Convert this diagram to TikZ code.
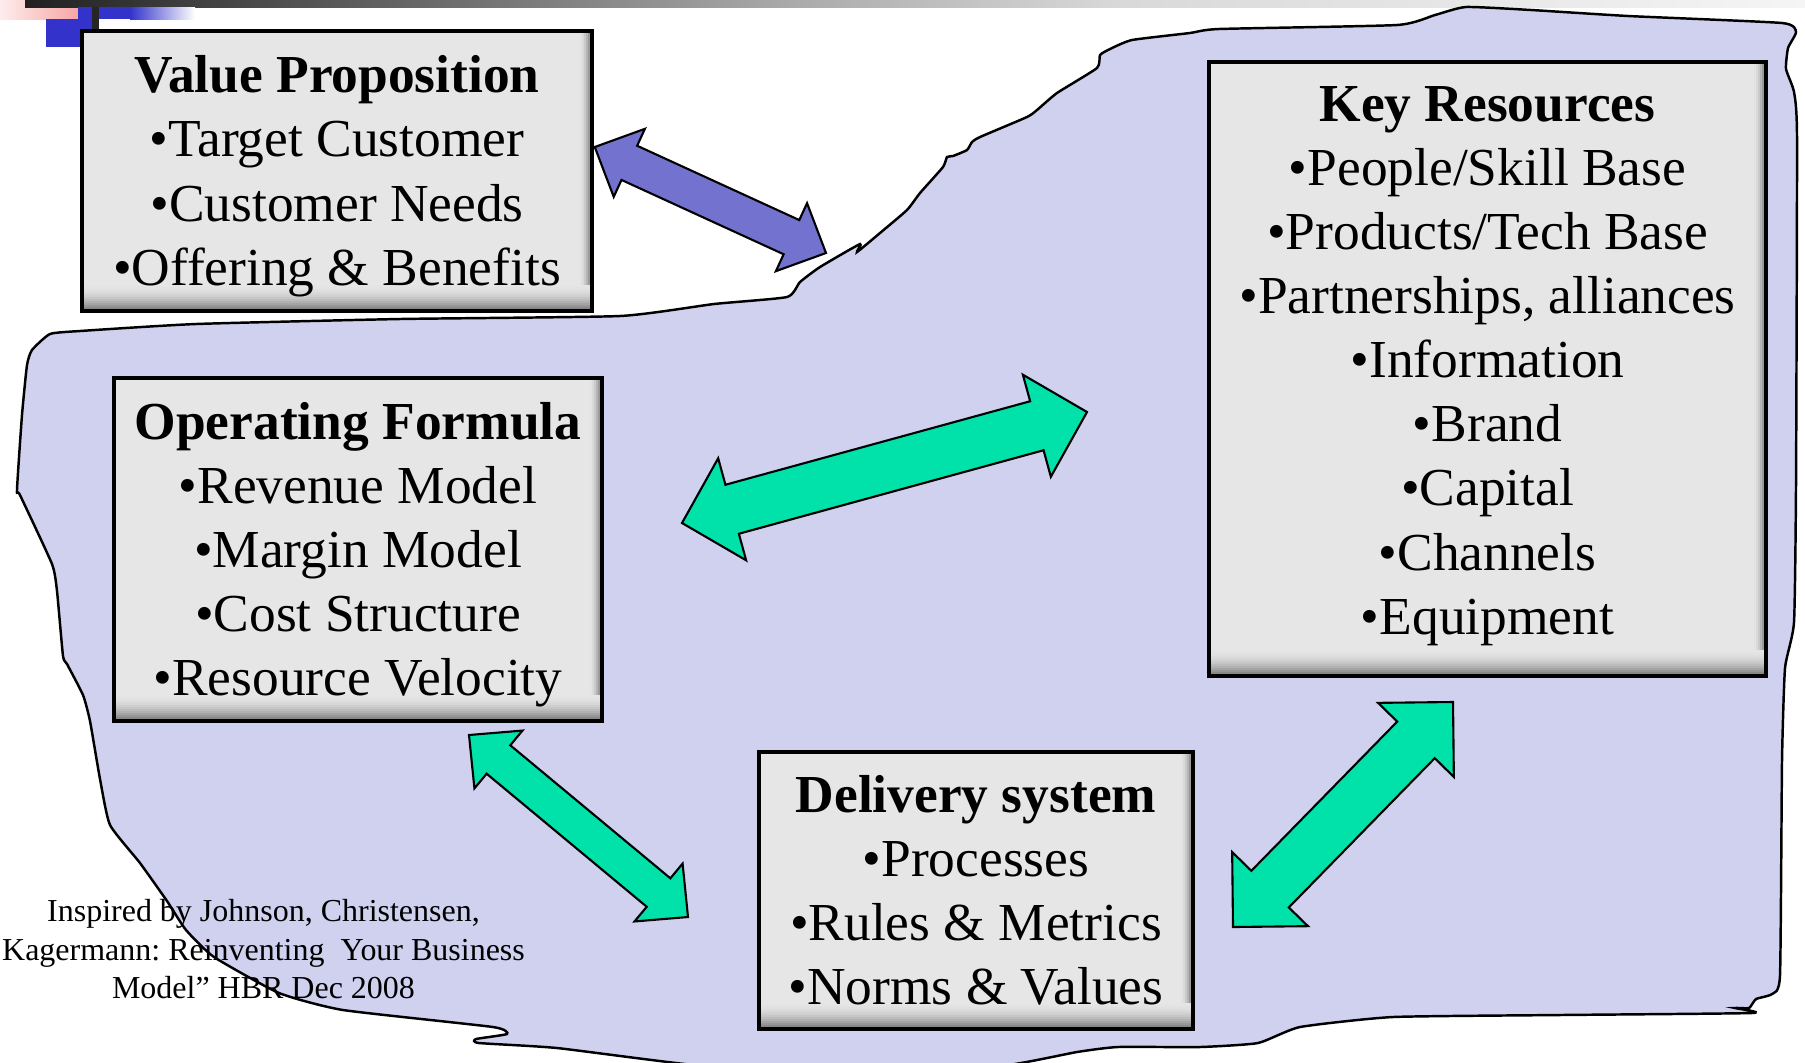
\documentclass[tikz,border=0pt]{standalone}
\usepackage{fontspec}
\setmainfont{Liberation Serif}
\usetikzlibrary{calc}

\definecolor{blobfill}{RGB}{208,209,239}
\definecolor{boxgray}{RGB}{230,230,230}
\definecolor{boxedge}{RGB}{120,120,120}
\definecolor{arrowblue}{RGB}{115,115,207}
\definecolor{arrowgreen}{RGB}{0,226,170}
\definecolor{decoblue}{RGB}{51,51,204}
\definecolor{decopink}{RGB}{248,165,165}

% block double arrow: style, tip, tip, head length, half head, half shaft
\newcommand{\dblarrow}[6]{%
  \draw[#1] (#2)
    -- ($(#2)!#4!(#3)!#5!90:(#3)$) -- ($(#2)!#4!(#3)!#6!90:(#3)$)
    -- ($(#3)!#4!(#2)!#6!-90:(#2)$) -- ($(#3)!#4!(#2)!#5!-90:(#2)$)
    -- (#3)
    -- ($(#3)!#4!(#2)!#5!90:(#2)$) -- ($(#3)!#4!(#2)!#6!90:(#2)$)
    -- ($(#2)!#4!(#3)!#6!-90:(#3)$) -- ($(#2)!#4!(#3)!#5!-90:(#3)$)
    -- cycle;}

\begin{document}
\begin{tikzpicture}[
  bizbox/.style={draw=black, line width=1pt, fill=boxgray, align=center, inner sep=0pt,
    font=\fontsize{15.2}{18.25}\selectfont,
    path picture={
      % bevel along the bottom and the right side
      \foreach \k [evaluate=\k as \p using \k*\k*0.59] in {1,...,13}
        \fill[boxedge!\p!boxgray]
          ([yshift=(14-\k)*0.02cm]path picture bounding box.south west)
          rectangle ([yshift=(13-\k)*0.02cm]path picture bounding box.south east);
      \foreach \k [evaluate=\k as \p using \k*\k*2.78] in {1,...,6}
        \fill[boxedge!\p!boxgray]
          ([xshift=-(7-\k)*0.02cm]path picture bounding box.north east)
          rectangle ([xshift=-(6-\k)*0.02cm, yshift=0.26cm]path picture bounding box.south east);
    }},
  blob/.style={draw=black, line width=0.7pt, fill=blobfill},
  smallarrow/.style={draw=black, line width=0.6pt, fill=arrowblue, line join=miter},
  bigarrow/.style={draw=black, line width=0.6pt, fill=arrowgreen, line join=miter}]

  \path[use as bounding box, fill=white] (0,0) rectangle (18.05,-10.62);

  % corner bars of the slide
  \shade[left color=decopink!20, right color=decopink] (0,0) rectangle (0.78,-0.193);
  \shade[left color=black!87, right color=black!34] (0.25,0) rectangle (7.8,-0.073);
  \shade[left color=black!34, right color=black!15] (7.8,0) rectangle (11.2,-0.073);
  \shade[left color=black!15, right color=black!4] (11.2,0) rectangle (18.05,-0.073);
  \fill[decoblue] (0.46,-0.193) rectangle (0.95,-0.47);
  \fill[decoblue] (0.78,-0.073) rectangle (1.30,-0.193);
  \shade[left color=decoblue, right color=white] (1.30,-0.073) rectangle (1.95,-0.193);
  \draw[line width=2pt, black!85] (0.955,-0.073) -- (0.955,-0.31);

  % hand drawn region
  \draw[blob] plot[smooth cycle, tension=0.3] coordinates {
    (0.50,-3.34) (0.80,-3.31) (1.96,-3.24) (4.00,-3.19) (6.20,-3.16) (7.14,-3.04)
    (7.87,-2.97) (8.00,-2.82) (8.20,-2.67) (8.60,-2.44) (8.57,-2.52) (8.80,-2.33)
    (9.07,-2.10) (9.20,-1.93) (9.43,-1.67) (9.47,-1.57) (9.53,-1.56) (9.67,-1.50)
    (9.72,-1.42) (9.80,-1.37) (10.27,-1.17) (10.37,-1.10) (10.57,-0.93) (10.97,-0.68)
    (11.00,-0.55) (11.10,-0.49) (11.32,-0.40) (11.90,-0.33) (12.19,-0.29) (13.97,-0.25)
    (14.35,-0.15) (14.66,-0.07) (15.31,-0.10) (16.28,-0.16) (17.82,-0.23) (17.96,-0.32)
    (17.88,-0.48) (17.86,-0.69) (17.94,-0.92) (17.97,-1.38) (17.96,-4.84) (17.94,-6.22)
    (17.85,-6.68) (17.82,-7.60) (17.80,-9.75) (17.72,-9.94) (17.56,-9.99) (17.49,-10.08)
    (17.35,-10.08) (17.52,-10.13) (15.60,-10.15) (13.93,-10.17) (13.00,-10.27) (12.58,-10.43)
    (12.00,-10.47) (11.18,-10.47) (10.77,-10.52) (10.00,-10.66) (8.50,-10.70) (7.04,-10.66)
    (5.57,-10.48) (4.79,-10.43) (4.76,-10.39) (5.07,-10.34) (4.93,-10.27) (3.43,-10.10)
    (2.79,-9.93) (2.14,-9.57) (1.86,-9.30) (1.67,-9.01) (1.40,-8.63) (1.10,-8.25)
    (1.00,-7.79) (0.90,-7.21) (0.83,-6.95) (0.67,-6.64) (0.63,-6.56) (0.57,-5.91)
    (0.52,-5.64) (0.20,-4.95) (0.17,-4.90) (0.22,-4.15) (0.27,-3.65) (0.32,-3.50)};

  \node[bizbox, minimum width=5.10cm, minimum height=2.80cm, text depth=0.3pt] (vp) at (3.37,-1.71)
    {\textbf{Value Proposition}\\•Target Customer\\•Customer Needs\\•Offering \& Benefits};
  \node[bizbox, minimum width=4.88cm, minimum height=3.43cm, text depth=0.3pt] (of) at (3.58,-5.495)
    {\textbf{Operating Formula}\\•Revenue Model\\•Margin Model\\•Cost Structure\\•Resource Velocity};
  \node[bizbox, minimum width=5.57cm, minimum height=6.14cm, text depth=5pt] (kr) at (14.875,-3.69)
    {\textbf{Key Resources}\\•People/Skill Base\\•Products/Tech Base\\•Partnerships, alliances\\•Information\\•Brand\\•Capital\\•Channels\\•Equipment};
  \node[bizbox, minimum width=4.34cm, minimum height=2.77cm] (ds) at (9.76,-8.905)
    {\textbf{Delivery system}\\•Processes\\•Rules \& Metrics\\•Norms \& Values};

  % arrow tips
  \coordinate (vp-end) at ([xshift=0.01cm,yshift=0.24cm]vp.east);
  \coordinate (blob-end) at (8.26,-2.53);
  \coordinate (of-right) at (6.82,-5.23);
  \coordinate (kr-left) at (10.87,-4.12);
  \coordinate (of-down) at (4.69,-7.35);
  \coordinate (ds-left) at (6.88,-9.17);
  \coordinate (ds-right) at (12.33,-9.27);
  \coordinate (kr-down) at (14.53,-7.02);

  \dblarrow{smallarrow}{vp-end}{blob-end}{0.38cm}{0.374cm}{0.188cm}
  \dblarrow{bigarrow}{of-right}{kr-left}{0.52cm}{0.529cm}{0.254cm}
  \dblarrow{bigarrow}{of-down}{ds-left}{0.383cm}{0.376cm}{0.185cm}
  \dblarrow{bigarrow}{ds-right}{kr-down}{0.53cm}{0.53cm}{0.262cm}

  \node[align=center, font=\fontsize{9.1}{10.95}\selectfont\frenchspacing] (credit) at (2.635,-9.495)
    {Inspired by Johnson, Christensen,\\Kagermann: Reinventing\ \ Your Business\\Model” HBR Dec 2008};
\end{tikzpicture}
\end{document}
